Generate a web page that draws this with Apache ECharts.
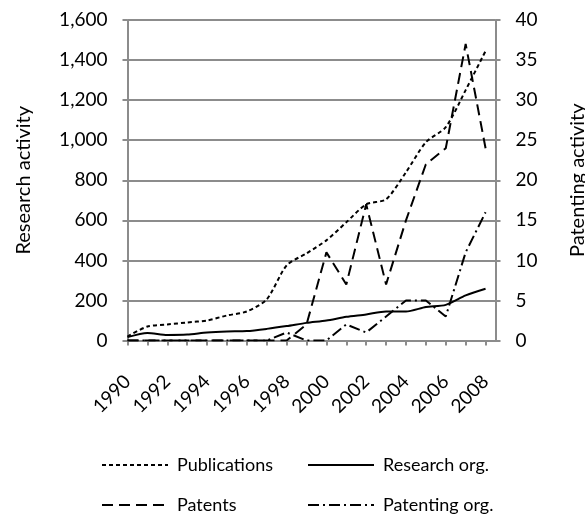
<!DOCTYPE html>
<html>
<head>
<meta charset="utf-8">
<script src="https://cdn.jsdelivr.net/npm/echarts@6/dist/echarts.min.js"></script>
<style>
  html, body { margin: 0; padding: 0; background: #fff; }
  #chart { width: 585px; height: 516px; }
</style>
</head>
<body>
<div id="chart"></div>
<script>
var years = [1990, 1991, 1992, 1993, 1994, 1995, 1996, 1997, 1998, 1999, 2000, 2001, 2002, 2003, 2004, 2005, 2006, 2007, 2008];
var publications = [20, 70, 80, 90, 100, 125, 145, 205, 375, 435, 500, 590, 680, 705, 840, 990, 1065, 1250, 1445];
var researchOrg = [17, 38, 28, 30, 40, 45, 47, 58, 72, 88, 100, 118, 130, 145, 145, 167, 178, 225, 258];
var patents = [0, 0, 0, 0, 0, 0, 0, 0, 0, 2, 11, 7, 17, 7, 15, 22, 24, 37, 24];
var patentingOrg = [0, 0, 0, 0, 0, 0, 0, 0, 1, 0, 0, 2, 1, 3, 5, 5, 3, 11, 16];

var leftTicks = [0, 200, 400, 600, 800, 1000, 1200, 1400, 1600];
var rightTicks = [0, 5, 10, 15, 20, 25, 30, 35, 40];

var FONT = 'Lato';
var GRAY = '#8c8c8c';

function pairs(vals) {
    var out = [];
    for (var i = 0; i < years.length; i++) {
        out.push([years[i], vals[i]]);
    }
    return out;
}

function lineSeries(name, vals, axisIdx, dash, smooth) {
    return {
        name: name,
        type: 'line',
        yAxisIndex: axisIdx,
        data: pairs(vals),
        symbol: 'none',
        smooth: smooth,
        animation: false,
        itemStyle: { color: '#000' },
        lineStyle: { color: '#000', width: 2, type: dash }
    };
}

function legendItem(name, left, top) {
    return {
        data: [name],
        left: left,
        top: top,
        itemWidth: 66,
        itemHeight: 10,
        itemGap: 0,
        itemStyle: { opacity: 0 },
        textStyle: { fontFamily: FONT, fontSize: 18, color: '#000', padding: [0, 0, 0, 4] },
        selectedMode: false
    };
}

var chart = echarts.init(document.getElementById('chart'));

var option = {
    backgroundColor: '#fff',
    animation: false,
    grid: { left: 127.5, right: 89.5, top: 20, bottom: 175.5, containLabel: false, outerBoundsMode: 'none' },
    legend: [
        legendItem('Publications', 96, 451),
        legendItem('Research org.', 302, 451),
        legendItem('Patents', 96, 491),
        legendItem('Patenting org.', 302, 491)
    ],
    xAxis: {
        type: 'value',
        min: 1990,
        max: 2008.5,
        interval: 1,
        splitLine: { show: false },
        axisLine: { lineStyle: { color: GRAY, width: 2 } },
        axisTick: { show: true, length: 5, lineStyle: { color: GRAY, width: 2 } },
        axisLabel: {
            rotate: 45,
            margin: 38,
            fontFamily: FONT,
            fontSize: 19,
            color: '#000',
            showMaxLabel: false,
            formatter: function (v) {
                if (v % 2 === 0 && v <= 2008) return String(v);
                return '';
            }
        }
    },
    yAxis: [
        {
            type: 'value',
            min: leftTicks[0],
            max: leftTicks[leftTicks.length - 1],
            interval: 200,
            name: 'Research activity',
            nameLocation: 'middle',
            nameRotate: 90,
            nameGap: 94,
            nameTextStyle: { fontFamily: FONT, fontSize: 20, color: '#000' },
            axisLine: { show: true, lineStyle: { color: GRAY, width: 2 } },
            axisTick: { show: true, length: 5, lineStyle: { color: GRAY, width: 2 } },
            splitLine: { show: true, lineStyle: { color: GRAY, width: 2 } },
            axisLabel: {
                margin: 20,
                fontFamily: FONT,
                fontSize: 19,
                color: '#000',
                formatter: function (v) { return v.toLocaleString('en-US'); }
            }
        },
        {
            type: 'value',
            position: 'right',
            min: rightTicks[0],
            max: rightTicks[rightTicks.length - 1],
            interval: 5,
            name: 'Patenting activity',
            nameLocation: 'middle',
            nameRotate: 90,
            nameGap: 72,
            nameTextStyle: { fontFamily: FONT, fontSize: 20, color: '#000' },
            axisLine: { show: true, lineStyle: { color: GRAY, width: 2 } },
            axisTick: { show: true, length: 5, lineStyle: { color: GRAY, width: 2 } },
            splitLine: { show: false },
            axisLabel: {
                margin: 20,
                fontFamily: FONT,
                fontSize: 19,
                color: '#000'
            }
        }
    ],
    series: [
        lineSeries('Publications', publications, 0, [4, 3], 0.25),
        lineSeries('Research org.', researchOrg, 0, 'solid', 0.25),
        lineSeries('Patents', patents, 1, [11, 6], false),
        lineSeries('Patenting org.', patentingOrg, 1, [11, 4, 2, 4], false)
    ]
};

chart.setOption(option);
</script>
</body>
</html>
